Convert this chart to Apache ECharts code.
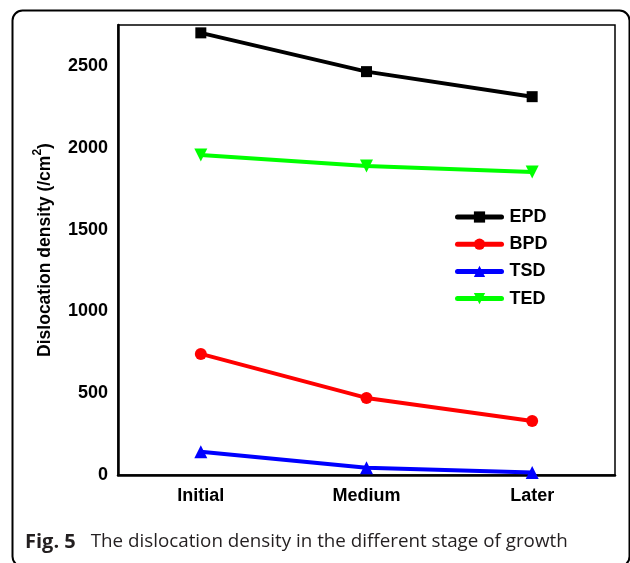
<!DOCTYPE html>
<html>
<head>
<meta charset="utf-8">
<script src="https://cdn.jsdelivr.net/npm/echarts@6/dist/echarts.min.js"></script>
<style>html,body{margin:0;padding:0;background:#fff}#c{width:630px;height:563px}</style>
</head>
<body>
<div id="c"></div>
<script>
const categories = ['Initial', 'Medium', 'Later'];
const EPD = [2702, 2465, 2312];
const BPD = [740, 471, 330];
const TSD = [142, 45, 15];
const TED = [1956, 1889, 1852];
const yTicks = [0, 500, 1000, 1500, 2000, 2500];

const chart = echarts.init(document.getElementById('c'));
const lab = {fontFamily: 'Liberation Sans, Arial', fontWeight: 'bold', fontSize: 18, color: '#000'};
function mk(name, data, color, symbol, size, rotate) {
  return {
    name, type: 'line', data, xAxisIndex: 0,
    symbol, symbolSize: size, symbolRotate: rotate || 0,
    lineStyle: {color, width: 4}, itemStyle: {color},
    animation: false
  };
}
chart.setOption({
  animation: false,
  grid: {left: 118, top: 25, right: 15, bottom: 88, show: true, borderColor: '#000', borderWidth: 1.5, backgroundColor: 'transparent'},
  legend: {
    orient: 'vertical', left: 450, top: 203, itemWidth: 44, itemHeight: 14, itemGap: 9.2,
    lineStyle: {width: 5, cap: 'round'},
    textStyle: Object.assign({}, lab, {padding: [0, 0, 0, 3]}),
    data: ['EPD', 'BPD', 'TSD', 'TED']
  },
  xAxis: [{
    type: 'category', data: categories, boundaryGap: true,
    axisLine: {lineStyle: {color: '#000', width: 2.5}},
    axisTick: {alignWithLabel: true, inside: true, length: 5, lineStyle: {color: '#000', width: 2}},
    axisLabel: Object.assign({}, lab, {margin: 12})
  }, {
    type: 'category', data: categories, boundaryGap: true, position: 'bottom',
    axisLine: {show: false},
    axisTick: {alignWithLabel: false, inside: true, length: 3, lineStyle: {color: '#000', width: 2}},
    axisLabel: {show: false}
  }],
  yAxis: {
    type: 'value', min: 0, max: 2750, interval: 250,
    name: '{a|Dislocation density (/cm}{s|2}{a|)}',
    nameLocation: 'middle', nameRotate: 90, nameGap: 64,
    nameTextStyle: {
      rich: {
        a: Object.assign({}, lab, {fontSize: 17.5, verticalAlign: 'bottom', lineHeight: 22}),
        s: Object.assign({}, lab, {fontSize: 12, verticalAlign: 'top', lineHeight: 22})
      }
    },
    splitLine: {show: false},
    axisLine: {show: true, lineStyle: {color: '#000', width: 2.5}},
    axisTick: {inside: true, length: 4, lineStyle: {color: '#000', width: 2}},
    axisLabel: Object.assign({}, lab, {margin: 10, formatter: v => yTicks.includes(v) ? String(v) : ''})
  },
  series: [
    mk('EPD', EPD, '#000000', 'rect', 11),
    mk('BPD', BPD, '#ff0000', 'circle', 12),
    mk('TSD', TSD, '#0000ff', 'triangle', 13),
    mk('TED', TED, '#00ff00', 'triangle', 13, 180)
  ],
  graphic: [
    {type: 'rect', left: 10, top: 8, shape: {width: 617, height: 556, r: 10}, style: {fill: 'none', stroke: '#000', lineWidth: 2}, silent: true},
    {type: 'text', left: 25, top: 532, style: {
      text: '{b|Fig. 5}{n|The dislocation density in the different stage of growth}',
      rich: {
        b: {fontFamily: 'Open Sans', fontWeight: 'bold', fontSize: 20, fill: '#231f20', padding: [0, 15, 0, 0]},
        n: {fontFamily: 'Open Sans', fontSize: 18.8, fill: '#231f20'}
      }
    }}
  ]
});
</script>
</body>
</html>
